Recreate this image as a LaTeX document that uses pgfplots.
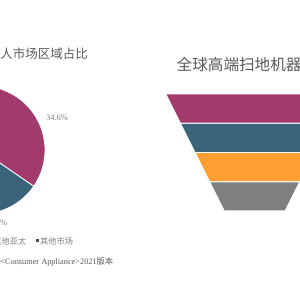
\documentclass[border=0pt]{standalone}
\usepackage{fontspec}
\setmainfont{Liberation Serif}
\newfontfamily\cjk{Noto Sans CJK SC}
\usepackage{pgfplots}
\pgfplotsset{compat=1.18}
\definecolor{cmag}{HTML}{A23B6C}
\definecolor{cteal}{HTML}{3A6479}
\definecolor{corange}{HTML}{FF9F31}
\definecolor{cgray}{HTML}{7F7F7F}
\definecolor{cdark}{HTML}{4D4D4D}
\definecolor{ctitle}{HTML}{595959}
\definecolor{clabel}{HTML}{808080}
\begin{document}
\begin{tikzpicture}
\begin{axis}[at={(0,0)},anchor=south west, scale only axis, width=300pt, height=300pt,
  xmin=0,xmax=300,ymin=0,ymax=300, axis lines=none]
% ---- pie (shares in %: 34.6, 23.0, 19.6, 12.4, 10.4), centre (-19,150), radius 64
\addplot[fill=cmag, draw=white, line width=0.8pt, domain=-34.56:90, samples=90]
  ({-19+64*cos(x)},{150+64*sin(x)}) -- (-19,150) -- cycle;
\addplot[fill=cteal, draw=white, line width=0.8pt, domain=-117.36:-34.56, samples=90]
  ({-19+64*cos(x)},{150+64*sin(x)}) -- (-19,150) -- cycle;
\addplot[fill=corange, draw=white, line width=0.8pt, domain=-187.92:-117.36, samples=90]
  ({-19+64*cos(x)},{150+64*sin(x)}) -- (-19,150) -- cycle;
\addplot[fill=cgray, draw=white, line width=0.8pt, domain=-232.56:-187.92, samples=60]
  ({-19+64*cos(x)},{150+64*sin(x)}) -- (-19,150) -- cycle;
\addplot[fill=cdark, draw=white, line width=0.8pt, domain=-270:-232.56, samples=60]
  ({-19+64*cos(x)},{150+64*sin(x)}) -- (-19,150) -- cycle;
% ---- funnel
\addplot[fill=cmag, draw=none] coordinates {(166.7,205.5) (342.7,205.5) (328.65,177.4) (180.75,177.4)} -- cycle;
\addplot[fill=cteal, draw=none] coordinates {(181.35,176.2) (328.05,176.2) (314.0,148.1) (195.4,148.1)} -- cycle;
\addplot[fill=corange, draw=none] coordinates {(196.0,146.9) (313.4,146.9) (299.35,118.8) (210.05,118.8)} -- cycle;
\addplot[fill=cgray, draw=none] coordinates {(210.65,117.6) (298.75,117.6) (284.7,89.5) (224.7,89.5)} -- cycle;
% ---- texts
\node[font=\fontsize{8.5}{10}\selectfont, text=clabel] at (57,182) {34.6\%};
\node[anchor=east, inner sep=0, font=\fontsize{8.5}{10}\selectfont, text=clabel] at (7.5,77) {23.0\%};
\node[anchor=east, inner sep=0, font=\cjk\fontsize{12.5}{14}\selectfont, text=ctitle] at (88,246) {全球扫地机器人市场区域占比};
\node[anchor=west, inner sep=0, font=\cjk\fontsize{15.6}{17}\selectfont, text=ctitle] at (176.5,235) {全球高端扫地机器人市场份额};
\node[anchor=east, inner sep=0, font=\cjk\fontsize{8.2}{10}\selectfont, text=clabel] at (26.5,59) {其他亚太};
\fill[cdark] (35.5,57.5) rectangle (38.5,60.5);
\node[anchor=west, inner sep=0, font=\cjk\fontsize{8.2}{10}\selectfont, text=clabel] at (40,59) {其他市场};
\node[anchor=east, inner sep=0, font=\fontsize{8.3}{10}\selectfont, text=ctitle] at (113.5,38) {{\cjk 数据来源：}Euromonitor<Consumer Appliance>2021{\cjk 版本}};
\end{axis}
\pgfresetboundingbox
\path[use as bounding box] (0,0) rectangle (300pt,300pt);
\end{tikzpicture}
\end{document}
